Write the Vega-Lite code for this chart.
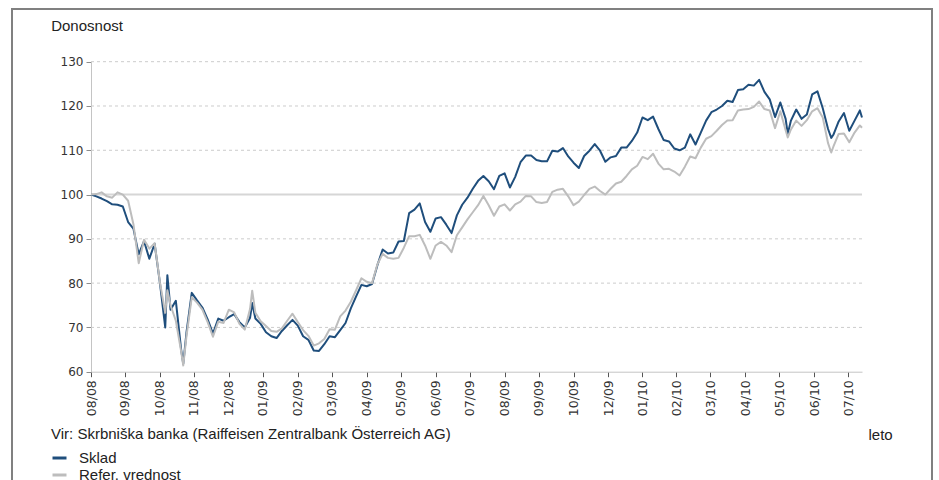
{
  "$schema": "https://vega.github.io/schema/vega-lite/v6.json",
  "width": 920,
  "height": 475,
  "autosize": {"type": "none"},
  "padding": {"left": 12, "top": 9, "right": 7, "bottom": 0},
  "background": "white",
  "config": {"view": {"stroke": "#808080", "strokeWidth": 2}, "font": "Liberation Sans"},
  "data": {"values": [
    {"d": "2008-08-01", "sklad": 100, "ref": 100},
    {"d": "2008-08-06", "sklad": 99.6, "ref": 100.1},
    {"d": "2008-08-11", "sklad": 99.1, "ref": 100.5},
    {"d": "2008-08-16", "sklad": 98.5, "ref": 99.6},
    {"d": "2008-08-21", "sklad": 97.8, "ref": 99.3},
    {"d": "2008-08-26", "sklad": 97.7, "ref": 100.5},
    {"d": "2008-08-31", "sklad": 97.3, "ref": 100.0},
    {"d": "2008-09-05", "sklad": 93.8, "ref": 98.6},
    {"d": "2008-09-10", "sklad": 92.3, "ref": 93.3},
    {"d": "2008-09-15", "sklad": 86.5, "ref": 84.5},
    {"d": "2008-09-20", "sklad": 89.5, "ref": 89.8},
    {"d": "2008-09-25", "sklad": 85.5, "ref": 87.8},
    {"d": "2008-09-30", "sklad": 88.9, "ref": 89.0},
    {"d": "2008-10-05", "sklad": 80.0, "ref": 80.2},
    {"d": "2008-10-10", "sklad": 70.0, "ref": 73.3},
    {"d": "2008-10-12", "sklad": 81.8, "ref": 78.4},
    {"d": "2008-10-15", "sklad": 74.0, "ref": 75.0},
    {"d": "2008-10-20", "sklad": 76.0, "ref": 71.5},
    {"d": "2008-10-25", "sklad": 65.0, "ref": 64.6},
    {"d": "2008-10-27", "sklad": 61.8, "ref": 61.4},
    {"d": "2008-10-30", "sklad": 68.8, "ref": 68.0},
    {"d": "2008-11-04", "sklad": 77.8, "ref": 76.8},
    {"d": "2008-11-09", "sklad": 76.1, "ref": 75.6},
    {"d": "2008-11-14", "sklad": 74.5, "ref": 74.0},
    {"d": "2008-11-19", "sklad": 71.8, "ref": 71.2},
    {"d": "2008-11-24", "sklad": 68.6, "ref": 67.9},
    {"d": "2008-11-29", "sklad": 72.0, "ref": 71.3},
    {"d": "2008-12-04", "sklad": 71.5, "ref": 71.0},
    {"d": "2008-12-09", "sklad": 72.3, "ref": 74.0},
    {"d": "2008-12-14", "sklad": 73.0, "ref": 73.4},
    {"d": "2008-12-19", "sklad": 71.2, "ref": 70.8},
    {"d": "2008-12-24", "sklad": 70.0, "ref": 69.5},
    {"d": "2008-12-29", "sklad": 72.2, "ref": 74.2},
    {"d": "2008-12-31", "sklad": 75.5, "ref": 78.3},
    {"d": "2009-01-03", "sklad": 72.0, "ref": 73.3},
    {"d": "2009-01-08", "sklad": 70.8, "ref": 71.4},
    {"d": "2009-01-13", "sklad": 68.9, "ref": 70.3},
    {"d": "2009-01-18", "sklad": 68.0, "ref": 69.2},
    {"d": "2009-01-23", "sklad": 67.6, "ref": 69.0},
    {"d": "2009-01-28", "sklad": 69.2, "ref": 69.8},
    {"d": "2009-02-02", "sklad": 70.5, "ref": 71.5},
    {"d": "2009-02-07", "sklad": 71.7, "ref": 73.1},
    {"d": "2009-02-12", "sklad": 70.4, "ref": 71.2},
    {"d": "2009-02-17", "sklad": 68.0, "ref": 69.4},
    {"d": "2009-02-22", "sklad": 67.2, "ref": 68.1},
    {"d": "2009-02-27", "sklad": 64.8, "ref": 65.9},
    {"d": "2009-03-04", "sklad": 64.7, "ref": 66.4},
    {"d": "2009-03-09", "sklad": 66.2, "ref": 67.4},
    {"d": "2009-03-14", "sklad": 68.0, "ref": 69.6},
    {"d": "2009-03-19", "sklad": 67.8, "ref": 69.5},
    {"d": "2009-03-24", "sklad": 69.4, "ref": 72.5},
    {"d": "2009-03-29", "sklad": 71.0, "ref": 73.8},
    {"d": "2009-04-03", "sklad": 74.3, "ref": 75.8},
    {"d": "2009-04-08", "sklad": 77.0, "ref": 78.4},
    {"d": "2009-04-13", "sklad": 79.6, "ref": 81.1},
    {"d": "2009-04-18", "sklad": 79.3, "ref": 80.3},
    {"d": "2009-04-23", "sklad": 79.8, "ref": 80.0},
    {"d": "2009-04-28", "sklad": 84.0, "ref": 84.2},
    {"d": "2009-05-03", "sklad": 87.6, "ref": 86.6},
    {"d": "2009-05-08", "sklad": 86.7, "ref": 85.7},
    {"d": "2009-05-13", "sklad": 86.9, "ref": 85.5},
    {"d": "2009-05-18", "sklad": 89.4, "ref": 85.7},
    {"d": "2009-05-23", "sklad": 89.5, "ref": 88.0},
    {"d": "2009-05-28", "sklad": 95.8, "ref": 90.6},
    {"d": "2009-06-02", "sklad": 96.6, "ref": 90.6},
    {"d": "2009-06-07", "sklad": 98.0, "ref": 90.9},
    {"d": "2009-06-12", "sklad": 93.8, "ref": 88.5},
    {"d": "2009-06-17", "sklad": 91.6, "ref": 85.5},
    {"d": "2009-06-22", "sklad": 94.6, "ref": 88.5},
    {"d": "2009-06-27", "sklad": 94.9, "ref": 89.3},
    {"d": "2009-07-02", "sklad": 93.2, "ref": 88.5},
    {"d": "2009-07-07", "sklad": 91.3, "ref": 87.0},
    {"d": "2009-07-12", "sklad": 95.3, "ref": 90.8},
    {"d": "2009-07-17", "sklad": 97.7, "ref": 92.6},
    {"d": "2009-07-22", "sklad": 99.3, "ref": 94.4},
    {"d": "2009-07-27", "sklad": 101.3, "ref": 96.0},
    {"d": "2009-08-01", "sklad": 103.1, "ref": 97.6},
    {"d": "2009-08-06", "sklad": 104.2, "ref": 99.7},
    {"d": "2009-08-11", "sklad": 103.0, "ref": 97.6},
    {"d": "2009-08-16", "sklad": 101.2, "ref": 95.2},
    {"d": "2009-08-21", "sklad": 104.2, "ref": 97.3},
    {"d": "2009-08-26", "sklad": 104.8, "ref": 97.8},
    {"d": "2009-08-31", "sklad": 101.6, "ref": 96.4},
    {"d": "2009-09-05", "sklad": 104.0, "ref": 97.8},
    {"d": "2009-09-10", "sklad": 107.3, "ref": 98.4},
    {"d": "2009-09-15", "sklad": 108.8, "ref": 99.7},
    {"d": "2009-09-20", "sklad": 108.8, "ref": 99.6},
    {"d": "2009-09-25", "sklad": 107.8, "ref": 98.3},
    {"d": "2009-09-30", "sklad": 107.5, "ref": 98.1},
    {"d": "2009-10-05", "sklad": 107.5, "ref": 98.3},
    {"d": "2009-10-10", "sklad": 109.9, "ref": 100.6},
    {"d": "2009-10-15", "sklad": 109.7, "ref": 101.1},
    {"d": "2009-10-20", "sklad": 110.5, "ref": 101.3},
    {"d": "2009-10-25", "sklad": 108.6, "ref": 99.6},
    {"d": "2009-10-30", "sklad": 107.2, "ref": 97.6},
    {"d": "2009-11-04", "sklad": 106.0, "ref": 98.4},
    {"d": "2009-11-09", "sklad": 108.7, "ref": 99.9},
    {"d": "2009-11-14", "sklad": 109.9, "ref": 101.3},
    {"d": "2009-11-19", "sklad": 111.4, "ref": 101.8},
    {"d": "2009-11-24", "sklad": 109.9, "ref": 100.8},
    {"d": "2009-11-29", "sklad": 107.4, "ref": 100.0},
    {"d": "2009-12-04", "sklad": 108.4, "ref": 101.3},
    {"d": "2009-12-09", "sklad": 108.7, "ref": 102.5},
    {"d": "2009-12-14", "sklad": 110.6, "ref": 102.9},
    {"d": "2009-12-19", "sklad": 110.6, "ref": 104.2},
    {"d": "2009-12-24", "sklad": 112.1, "ref": 105.7},
    {"d": "2009-12-29", "sklad": 114.0, "ref": 106.5},
    {"d": "2010-01-03", "sklad": 117.4, "ref": 108.5},
    {"d": "2010-01-08", "sklad": 116.8, "ref": 108.0},
    {"d": "2010-01-13", "sklad": 117.6, "ref": 109.2},
    {"d": "2010-01-18", "sklad": 114.8, "ref": 107.0},
    {"d": "2010-01-23", "sklad": 112.3, "ref": 105.7},
    {"d": "2010-01-28", "sklad": 112.0, "ref": 105.8},
    {"d": "2010-02-02", "sklad": 110.4, "ref": 105.2},
    {"d": "2010-02-07", "sklad": 110.0, "ref": 104.3},
    {"d": "2010-02-12", "sklad": 110.6, "ref": 106.3},
    {"d": "2010-02-17", "sklad": 113.6, "ref": 108.6},
    {"d": "2010-02-22", "sklad": 111.3, "ref": 108.2},
    {"d": "2010-02-27", "sklad": 114.0, "ref": 110.6},
    {"d": "2010-03-04", "sklad": 116.7, "ref": 112.6},
    {"d": "2010-03-09", "sklad": 118.6, "ref": 113.2},
    {"d": "2010-03-14", "sklad": 119.2, "ref": 114.4},
    {"d": "2010-03-19", "sklad": 120.0, "ref": 115.7},
    {"d": "2010-03-24", "sklad": 121.2, "ref": 116.7},
    {"d": "2010-03-29", "sklad": 120.9, "ref": 116.8},
    {"d": "2010-04-03", "sklad": 123.6, "ref": 119.0},
    {"d": "2010-04-08", "sklad": 123.8, "ref": 119.2},
    {"d": "2010-04-13", "sklad": 124.8, "ref": 119.3},
    {"d": "2010-04-18", "sklad": 124.6, "ref": 119.8},
    {"d": "2010-04-23", "sklad": 125.9, "ref": 121.0},
    {"d": "2010-04-28", "sklad": 123.2, "ref": 119.3},
    {"d": "2010-05-03", "sklad": 121.5, "ref": 119.0},
    {"d": "2010-05-08", "sklad": 117.5, "ref": 115.0},
    {"d": "2010-05-13", "sklad": 120.8, "ref": 118.8},
    {"d": "2010-05-18", "sklad": 117.1, "ref": 114.5},
    {"d": "2010-05-20", "sklad": 113.7, "ref": 112.9},
    {"d": "2010-05-23", "sklad": 116.7, "ref": 114.7},
    {"d": "2010-05-28", "sklad": 119.2, "ref": 116.7},
    {"d": "2010-06-02", "sklad": 117.1, "ref": 115.5},
    {"d": "2010-06-07", "sklad": 118.1, "ref": 116.8},
    {"d": "2010-06-12", "sklad": 122.6, "ref": 118.8},
    {"d": "2010-06-17", "sklad": 123.3, "ref": 119.5},
    {"d": "2010-06-22", "sklad": 119.5, "ref": 117.4},
    {"d": "2010-06-27", "sklad": 114.8, "ref": 111.6},
    {"d": "2010-06-30", "sklad": 112.8, "ref": 109.5},
    {"d": "2010-07-02", "sklad": 113.5, "ref": 110.8},
    {"d": "2010-07-07", "sklad": 116.5, "ref": 113.7},
    {"d": "2010-07-12", "sklad": 118.4, "ref": 113.8},
    {"d": "2010-07-17", "sklad": 114.4, "ref": 111.8},
    {"d": "2010-07-22", "sklad": 116.7, "ref": 114.0},
    {"d": "2010-07-27", "sklad": 119.0, "ref": 115.6},
    {"d": "2010-07-29", "sklad": 117.4, "ref": 115.1}
  ]},
  "layer": [
    {
      "data": {"values": [{"g": 70}, {"g": 80}, {"g": 90}, {"g": 110}, {"g": 120}, {"g": 130}]},
      "mark": {"type": "rule", "strokeDash": [3, 3], "color": "#cccccc", "strokeWidth": 1},
      "encoding": {
        "y": {"field": "g", "type": "quantitative"},
        "x": {"datum": {"year": 2008, "month": 8, "date": 1, "utc": true}, "type": "temporal", "scale": {"type": "utc"}},
        "x2": {"datum": {"year": 2010, "month": 7, "date": 29, "utc": true}}
      }
    },
    {
      "data": {"values": [{}]},
      "mark": {"type": "rule", "color": "#d6d6d6", "strokeWidth": 2},
      "encoding": {
        "y": {"datum": 100, "type": "quantitative"},
        "x": {"datum": {"year": 2008, "month": 8, "date": 1, "utc": true}, "type": "temporal", "scale": {"type": "utc"}},
        "x2": {"datum": {"year": 2010, "month": 7, "date": 29, "utc": true}}
      }
    },
    {
      "mark": {"type": "line", "strokeWidth": 2, "strokeJoin": "round"},
      "encoding": {
        "x": {
          "field": "d", "type": "temporal",
          "scale": {
            "type": "utc",
            "domain": [{"year": 2008, "month": 8, "date": 1, "utc": true}, {"year": 2010, "month": 7, "date": 29, "utc": true}],
            "range": [79, 850], "nice": false
          },
          "axis": {
            "values": [
              {"year": 2008, "month": 8, "date": 1, "utc": true},
              {"year": 2008, "month": 9, "date": 2, "utc": true},
              {"year": 2008, "month": 10, "date": 5, "utc": true},
              {"year": 2008, "month": 11, "date": 6, "utc": true},
              {"year": 2008, "month": 12, "date": 9, "utc": true},
              {"year": 2009, "month": 1, "date": 10, "utc": true},
              {"year": 2009, "month": 2, "date": 12, "utc": true},
              {"year": 2009, "month": 3, "date": 16, "utc": true},
              {"year": 2009, "month": 4, "date": 18, "utc": true},
              {"year": 2009, "month": 5, "date": 20, "utc": true},
              {"year": 2009, "month": 6, "date": 22, "utc": true},
              {"year": 2009, "month": 7, "date": 24, "utc": true},
              {"year": 2009, "month": 8, "date": 26, "utc": true},
              {"year": 2009, "month": 9, "date": 27, "utc": true},
              {"year": 2009, "month": 10, "date": 30, "utc": true},
              {"year": 2009, "month": 12, "date": 1, "hours": 12, "utc": true},
              {"year": 2010, "month": 1, "date": 3, "utc": true},
              {"year": 2010, "month": 2, "date": 4, "utc": true},
              {"year": 2010, "month": 3, "date": 8, "utc": true},
              {"year": 2010, "month": 4, "date": 10, "utc": true},
              {"year": 2010, "month": 5, "date": 12, "utc": true},
              {"year": 2010, "month": 6, "date": 14, "utc": true},
              {"year": 2010, "month": 7, "date": 16, "utc": true}
            ],
            "format": "%m/%y", "labelAngle": 270, "labelOverlap": false, "labelFlush": false, "labelBound": false,
            "offset": -112.3, "grid": false,
            "domainColor": "#c4c4c4", "domainWidth": 1,
            "tickColor": "#555555", "tickSize": 5, "tickWidth": 1,
            "labelFont": "DejaVu Sans", "labelFontSize": 12.5, "labelColor": "#333333", "labelPadding": 3,
            "title": "leto", "titleAngle": 0, "titleX": 856, "titleY": 62.8,
            "titleAlign": "left", "titleBaseline": "middle",
            "titleFont": "Liberation Sans", "titleFontSize": 15, "titleFontWeight": "normal", "titleColor": "#222222"
          }
        },
        "y": {
          "field": "sklad", "type": "quantitative",
          "scale": {"domain": [60, 130], "range": [362.7, 52.7], "nice": false, "zero": false},
          "axis": {
            "values": [60, 70, 80, 90, 100, 110, 120, 130],
            "offset": -79, "grid": false,
            "domainColor": "#c4c4c4", "domainWidth": 1,
            "tickColor": "#8c8c8c", "tickSize": 5, "tickWidth": 1,
            "labelFont": "DejaVu Sans", "labelFontSize": 12, "labelColor": "#333333", "labelPadding": 3,
            "title": "Donosnost", "titleAngle": 0, "titleX": -40.3, "titleY": 16.5,
            "titleAlign": "left", "titleBaseline": "middle",
            "titleFont": "Liberation Sans", "titleFontSize": 15, "titleFontWeight": "normal", "titleColor": "#222222"
          }
        },
        "color": {
          "datum": "Sklad",
          "scale": {"domain": ["Sklad", "Refer. vrednost"], "range": ["#1f4e7c", "#bdbdbd"]},
          "legend": {
            "orient": "none", "legendX": 39, "legendY": 417.5, "padding": 0,
            "title": "Vir: Skrbniška banka (Raiffeisen Zentralbank Österreich AG)",
            "titleFont": "Liberation Sans", "titleFontSize": 15, "titleFontWeight": "normal", "titleColor": "#222222",
            "titleLimit": 1000, "titlePadding": 8,
            "symbolType": "stroke", "symbolStrokeWidth": 3, "symbolSize": 196,
            "labelFont": "Liberation Sans", "labelFontSize": 15, "labelColor": "#222222", "labelLimit": 400,
            "labelOffset": 11, "rowPadding": 0
          }
        }
      }
    },
    {
      "mark": {"type": "line", "strokeWidth": 2, "strokeJoin": "round"},
      "encoding": {
        "x": {"field": "d", "type": "temporal", "scale": {"type": "utc"}},
        "y": {"field": "ref", "type": "quantitative"},
        "color": {"datum": "Refer. vrednost"}
      }
    }
  ]
}
